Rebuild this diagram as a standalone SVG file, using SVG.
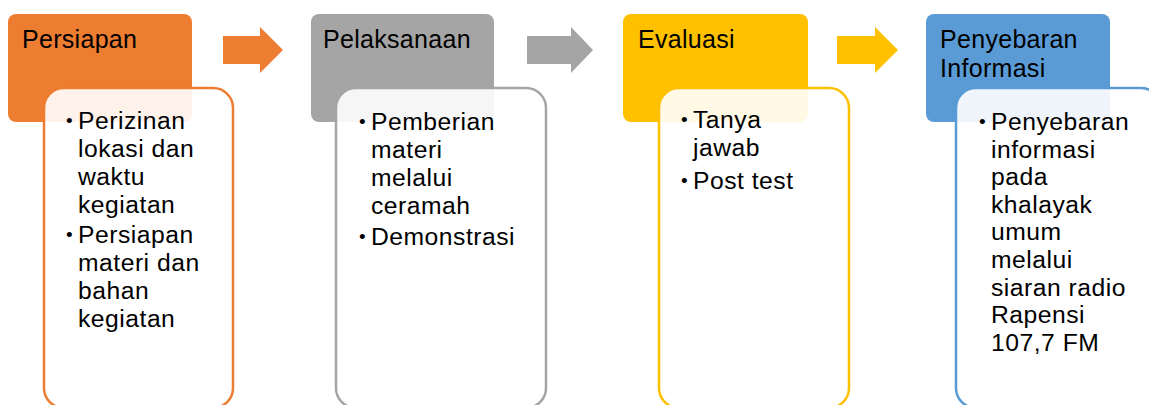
<svg xmlns="http://www.w3.org/2000/svg" width="1149" height="405" viewBox="0 0 1149 405">
<style>
text { font-family: "Liberation Sans", Arial, sans-serif; fill: #000; }
.h { font-size: 25px; letter-spacing: 0.3px; }
.b { font-size: 24.7px; letter-spacing: 0.5px; }
.d { font-size: 19px; letter-spacing: 0; }
.box { fill: #fff; fill-opacity: 0.9; stroke-width: 2.5; }
</style>
<rect width="1149" height="405" fill="#fff"/>
<g id="connectors">
<polygon points="223,36 260,36 260,27 283,50 260,73 260,64 223,64" fill="#ED7D31"/>
<polygon points="527,36 571,36 571,27 593,50 571,73 571,64 527,64" fill="#A5A5A5"/>
<polygon points="837,36 875,36 875,27 898,50 875,73 875,64 837,64" fill="#FFC000"/>
</g>
<g id="node-persiapan">
<rect x="8" y="14" width="184" height="108" rx="8" fill="#ED7D31"/>
<text class="h" x="22" y="48">Persiapan</text>
<rect class="box" x="44" y="88" width="189" height="320" rx="20" stroke="#ED7D31"/>
<text class="b"><tspan class="d" x="66" y="127">•</tspan><tspan x="78" y="129">Perizinan</tspan><tspan x="78" dy="28">lokasi dan</tspan><tspan x="78" dy="28">waktu</tspan><tspan x="78" dy="28">kegiatan</tspan></text>
<text class="b"><tspan class="d" x="66" y="241">•</tspan><tspan x="78" y="243">Persiapan</tspan><tspan x="78" dy="28">materi dan</tspan><tspan x="78" dy="28">bahan</tspan><tspan x="78" dy="28">kegiatan</tspan></text>
</g>
<g id="node-pelaksanaan">
<rect x="311" y="14" width="183" height="108" rx="8" fill="#A5A5A5"/>
<text class="h" x="323" y="48">Pelaksanaan</text>
<rect class="box" x="336" y="88" width="210" height="320" rx="20" stroke="#A5A5A5"/>
<text class="b"><tspan class="d" x="359" y="128">•</tspan><tspan x="371" y="130">Pemberian</tspan><tspan x="371" dy="28">materi</tspan><tspan x="371" dy="28">melalui</tspan><tspan x="371" dy="28">ceramah</tspan></text>
<text class="b"><tspan class="d" x="359" y="243">•</tspan><tspan x="371" y="245">Demonstrasi</tspan></text>
</g>
<g id="node-evaluasi">
<rect x="623" y="14" width="185" height="108" rx="8" fill="#FFC000"/>
<text class="h" x="638" y="48">Evaluasi</text>
<rect class="box" x="659" y="88" width="190" height="320" rx="20" stroke="#FFC000"/>
<text class="b"><tspan class="d" x="681" y="126">•</tspan><tspan x="693" y="128">Tanya</tspan><tspan x="693" dy="28">jawab</tspan></text>
<text class="b"><tspan class="d" x="681" y="187">•</tspan><tspan x="693" y="189">Post test</tspan></text>
</g>
<g id="node-penyebaran">
<rect x="926" y="14" width="184" height="108" rx="8" fill="#5B9BD5"/>
<text class="h"><tspan x="940" y="48">Penyebaran</tspan><tspan x="940" dy="28.5">Informasi</tspan></text>
<rect class="box" x="956" y="88" width="205" height="320" rx="20" stroke="#5B9BD5"/>
<text class="b"><tspan class="d" x="979" y="128">•</tspan><tspan x="991" y="130">Penyebaran</tspan><tspan x="991" dy="27.6">informasi</tspan><tspan x="991" dy="27.6">pada</tspan><tspan x="991" dy="27.6">khalayak</tspan><tspan x="991" dy="27.6">umum</tspan><tspan x="991" dy="27.6">melalui</tspan><tspan x="991" dy="27.6">siaran radio</tspan><tspan x="991" dy="27.6">Rapensi</tspan><tspan x="991" dy="27.6">107,7 FM</tspan></text>
</g>
</svg>
